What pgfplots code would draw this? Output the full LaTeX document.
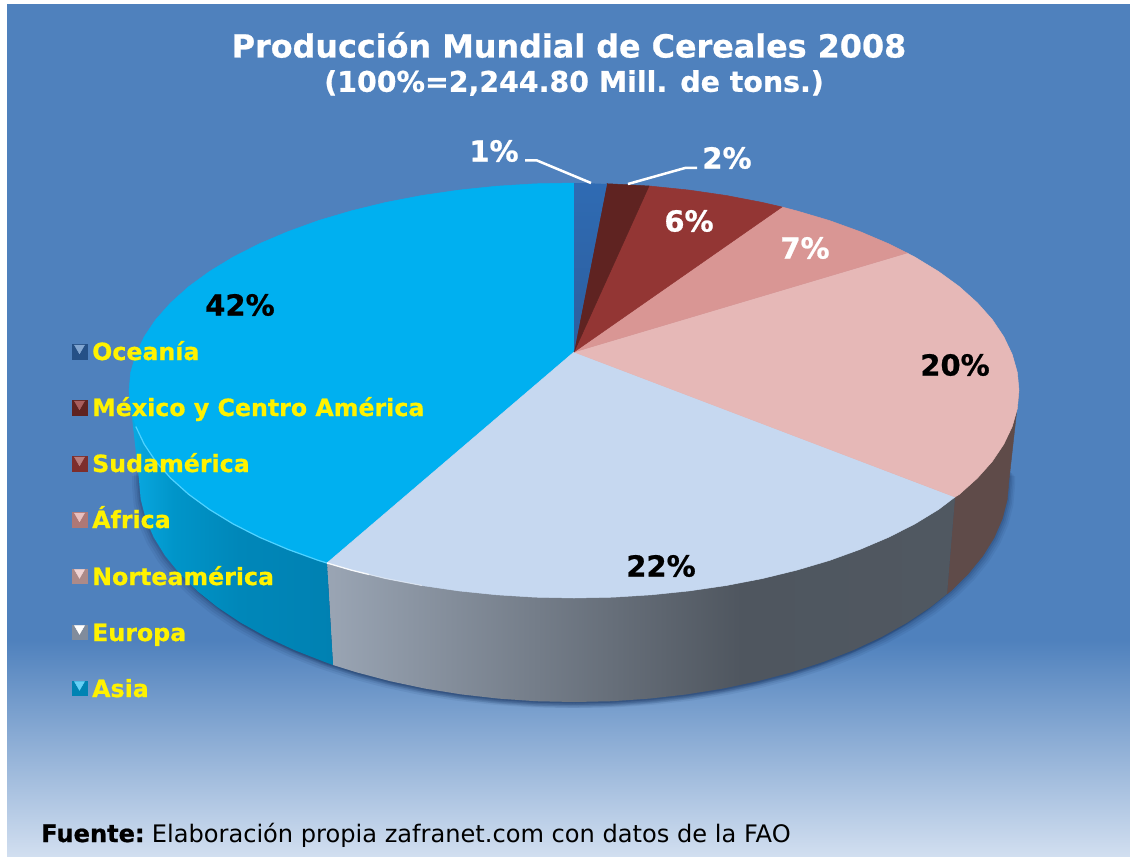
\documentclass[border=0pt]{standalone}
\usepackage{fontspec}
\setmainfont[BoldFeatures={FakeBold=0.7}]{DejaVu Sans}
\usepackage{pgfplots}
\usepackage{pgfplotstable}
\pgfplotsset{compat=1.18}
\definecolor{bg}{HTML}{4F81BD}
\definecolor{bgb}{HTML}{D2DFF0}
\definecolor{eL}{HTML}{9AA5B4}\definecolor{eD}{HTML}{4F565F}\definecolor{eR}{HTML}{505861}
\definecolor{aL}{HTML}{0AAAE3}\definecolor{aM}{HTML}{0095C9}\definecolor{aD}{HTML}{0087B9}\definecolor{aR}{HTML}{0081B2}
\definecolor{HTMLwall}{HTML}{5F4B49}
\definecolor{HTMLoc1}{HTML}{2F6BB3}
\definecolor{HTMLoc2}{HTML}{2C5E9E}
\definecolor{HTMLmx}{HTML}{5F2321}
\definecolor{HTMLsu}{HTML}{933634}
\definecolor{HTMLaf}{HTML}{D99694}
\definecolor{HTMLno}{HTML}{E6B8B7}
\definecolor{HTMLeu}{HTML}{C6D8F0}
\definecolor{HTMLas}{HTML}{00B0F0}
\definecolor{HTMLasd}{HTML}{0083B3}
\definecolor{HTMLasr}{HTML}{4FD2FF}
\definecolor{shc}{HTML}{1E3A66}
\pgfdeclarehorizontalshading{eurosh}{100bp}{color(0bp)=(eL); color(25bp)=(eL); color(58bp)=(eD); color(75bp)=(eR); color(100bp)=(eR)}
\pgfdeclarehorizontalshading{asiash}{100bp}{color(0bp)=(aL); color(25bp)=(aL); color(36bp)=(aM); color(52bp)=(aD); color(75bp)=(aR); color(100bp)=(aR)}
% top surface
\pgfplotstableread{
x y
574 352
574 183
590 183.3
607 184
574 352
}\oceania
\pgfplotstableread{
x y
574 352
607 183.7
630 184.9
649 186
574 352
}\mexico
\pgfplotstableread{
x y
574 352
649 186
651.3 186.2
689.2 190.1
726.2 195.5
762.1 202.4
782 207
574 352
}\sudamerica
\pgfplotstableread{
x y
574 352
782 207
796.5 210.8
829.3 220.5
860 231.6
888.7 243.8
907 253
574 352
}\africa
\pgfplotstableread{
x y
574 352
907 253
914.9 257.1
938.5 271.5
959.4 286.7
977.3 302.8
992.2 319.5
1003.8 336.8
1012.2 354.5
1017.3 372.4
1019 390.5
1017.3 408.6
1012.2 426.5
1003.8 444.2
992.2 461.5
977.3 478.2
959.4 494.3
955 497
574 352
}\norte
\pgfplotstableread{
x y
574 352
955 497
938.5 509.5
914.9 523.9
888.7 537.2
860 549.4
829.3 560.5
796.5 570.2
762.1 578.6
726.2 585.5
689.2 590.9
651.3 594.8
612.8 597.2
574 598
535.2 597.2
496.7 594.8
458.8 590.9
421.8 585.5
385.9 578.6
351.5 570.2
327 563
574 352
}\europa
\pgfplotstableread{
x y
574 352
327 563
318.7 560.5
288 549.4
259.3 537.2
233.1 523.9
209.5 509.5
188.6 494.3
170.7 478.2
155.8 461.5
144.2 444.2
135.8 426.5
130.7 408.6
129 390.5
130.7 372.4
135.8 354.5
144.2 336.8
155.8 319.5
170.7 302.8
188.6 286.7
209.5 271.5
233.1 257.1
259.3 243.8
288 231.6
318.7 220.5
351.5 210.8
385.9 202.4
421.8 195.5
458.8 190.1
496.7 186.2
535.2 183.8
574 183
574 352
}\asia
% side walls
\pgfplotstableread{
x y
1019 390.5
1009 480
1007.3 499.3
1002.4 518.5
994.2 537.5
982.8 555.9
968.2 573.8
950.7 591
947 594
955 497
}\nortewall
\pgfplotstableread{
x y
955 497
947 594
930.4 607.3
907.2 622.7
881.6 637
853.6 650.1
823.5 661.9
791.5 672.3
757.8 681.2
722.8 688.6
686.6 694.4
649.5 698.6
611.9 701.2
574 702
536.1 701.2
498.5 698.6
461.4 694.4
425.2 688.6
390.2 681.2
356.5 672.3
333 665
327 563
574 598
}\europawall
\pgfplotstableread{
x y
327 563
333 665
324.5 661.9
294.4 650.1
266.4 637
240.8 622.7
217.6 607.3
197.3 591
179.8 573.8
165.2 555.9
153.8 537.5
145.6 518.5
140.7 499.3
139 480
129 390.5
}\asiawall
% outline for the drop shadow
\pgfplotstableread{
x y
1009 470
1009 480
1007.3 499.3
1002.4 518.5
994.2 537.5
982.8 555.9
968.2 573.8
950.7 591
930.4 607.3
907.2 622.7
881.6 637
853.6 650.1
823.5 661.9
791.5 672.3
757.8 681.2
722.8 688.6
686.6 694.4
649.5 698.6
611.9 701.2
574 702
536.1 701.2
498.5 698.6
461.4 694.4
425.2 688.6
390.2 681.2
356.5 672.3
324.5 661.9
294.4 650.1
266.4 637
240.8 622.7
217.6 607.3
197.3 591
179.8 573.8
165.2 555.9
153.8 537.5
145.6 518.5
140.7 499.3
139 480
139 470
}\shadow
% rim highlights
\pgfplotstableread{
x y
327 563
318.7 560.5
288 549.4
259.3 537.2
233.1 523.9
209.5 509.5
188.6 494.3
170.7 478.2
155.8 461.5
144.2 444.2
135.8 426.5
}\asiarim
\pgfplotstableread{
x y
327 563
351.5 570.2
369 574.5
}\eurorima
\pgfplotstableread{
x y
369 574.5
385.9 578.6
421.8 585.5
}\eurorimb
\newcommand{\fs}[1]{\fontsize{#1bp}{#1bp}\selectfont}
\begin{document}
\begin{tikzpicture}
\useasboundingbox (0,0) rectangle (1130bp,857bp);
\begin{axis}[at={(0,0)},anchor=south west,width=1130bp,height=857bp,scale only axis,
  xmin=0,xmax=1130,ymin=0,ymax=857,y dir=reverse,hide axis,clip=false]
% background
\addplot[draw=none,fill=bg] coordinates {(7,4)(1130,4)(1130,641)(7,641)};
\addplot[draw=none,top color=bg,bottom color=bgb,shading angle=0] coordinates {(7,640)(1130,640)(1130,857)(7,857)};
% shadow
\addplot[draw=none,fill=shc,opacity=.09,xshift=-7bp,yshift=-6bp] table {\shadow};
\addplot[draw=none,fill=shc,opacity=.09,xshift=6bp,yshift=-6bp] table {\shadow};
\addplot[draw=none,fill=shc,opacity=.12,xshift=-5bp,yshift=-4.5bp] table {\shadow};
\addplot[draw=none,fill=shc,opacity=.12,xshift=4.5bp,yshift=-4.5bp] table {\shadow};
\addplot[draw=none,fill=shc,opacity=.15,xshift=-3bp,yshift=-3bp] table {\shadow};
\addplot[draw=none,fill=shc,opacity=.15,xshift=3bp,yshift=-3bp] table {\shadow};
\addplot[draw=none,fill=shc,opacity=.2,xshift=-1.5bp,yshift=-1.5bp] table {\shadow};
\addplot[draw=none,fill=shc,opacity=.2,xshift=1.5bp,yshift=-1.5bp] table {\shadow};
% walls
\addplot[draw=HTMLwall,line width=.4bp,fill=HTMLwall] table {\nortewall};
\addplot[draw=none,shade,shading=eurosh] table {\europawall};
\addplot[draw=none,shade,shading=asiash] table {\asiawall};
% top
\addplot[draw=HTMLas,line width=.5bp,fill=HTMLas] table {\asia};
\addplot[draw=HTMLeu,line width=.5bp,fill=HTMLeu] table {\europa};
\addplot[draw=HTMLno,line width=.5bp,fill=HTMLno] table {\norte};
\addplot[draw=HTMLaf,line width=.5bp,fill=HTMLaf] table {\africa};
\addplot[draw=HTMLsu,line width=.5bp,fill=HTMLsu] table {\sudamerica};
\addplot[draw=HTMLmx,line width=.5bp,fill=HTMLmx] table {\mexico};
\addplot[draw=none,top color=HTMLoc1,bottom color=HTMLoc2] table {\oceania};
\addplot[line width=1.2bp,color=HTMLasr] table {\asiarim};
\addplot[line width=1.3bp,color=white,opacity=.9] table {\eurorima};
\addplot[line width=1.1bp,color=white,opacity=.4] table {\eurorimb};
% leader lines
\addplot[line width=2.5bp,white] coordinates {(525,160.5)(537,160.5)(591,183)};
\addplot[line width=2.5bp,white] coordinates {(697,168)(685,168)(628,184)};
% legend markers
\addplot[only marks,color=HTMLoc2!85!black,mark=square*,mark size=7.2bp] coordinates {(79.5,351.5)};
\addplot[only marks,color=HTMLoc1!60!white,mark=triangle*,mark size=5.8bp,mark options={rotate=180}] coordinates {(79.5,348)};
\addplot[only marks,color=HTMLmx,mark=square*,mark size=7.2bp] coordinates {(79.5,407.5)};
\addplot[only marks,color=HTMLsu!80!white,mark=triangle*,mark size=5.8bp,mark options={rotate=180}] coordinates {(79.5,404)};
\addplot[only marks,color=HTMLsu!85!black,mark=square*,mark size=7.2bp] coordinates {(79.5,463.5)};
\addplot[only marks,color=HTMLsu!65!white,mark=triangle*,mark size=5.8bp,mark options={rotate=180}] coordinates {(79.5,460)};
\addplot[only marks,color=HTMLaf!80!black,mark=square*,mark size=7.2bp] coordinates {(79.5,519.5)};
\addplot[only marks,color=HTMLaf!60!white,mark=triangle*,mark size=5.8bp,mark options={rotate=180}] coordinates {(79.5,516)};
\addplot[only marks,color=HTMLno!75!black,mark=square*,mark size=7.2bp] coordinates {(79.5,576)};
\addplot[only marks,color=HTMLno!60!white,mark=triangle*,mark size=5.8bp,mark options={rotate=180}] coordinates {(79.5,572.5)};
\addplot[only marks,color=HTMLeu!65!black,mark=square*,mark size=7.2bp] coordinates {(79.5,632)};
\addplot[only marks,color=white,mark=triangle*,mark size=5.8bp,mark options={rotate=180}] coordinates {(79.5,628.5)};
\addplot[only marks,color=HTMLasd,mark=square*,mark size=7.2bp] coordinates {(79.5,688)};
\addplot[only marks,color=HTMLas!60!white,mark=triangle*,mark size=5.8bp,mark options={rotate=180}] coordinates {(79.5,684.5)};
% texts
\node[white,font=\fs{31.8}\bfseries] at (axis cs:569,45) {Producción Mundial de Cereales 2008};
\node[white,font=\fs{28.4}\bfseries] at (axis cs:574,83) {(100\%=2,244.80 Mill. de tons.)};
\node[white,font=\fs{29}\bfseries] at (axis cs:494,151) {1\%};
\node[white,font=\fs{29}\bfseries] at (axis cs:727,158) {2\%};
\node[white,font=\fs{29}\bfseries] at (axis cs:689,221) {6\%};
\node[white,font=\fs{29}\bfseries] at (axis cs:805,248) {7\%};
\node[black,font=\fs{29}\bfseries] at (axis cs:955,365) {20\%};
\node[black,font=\fs{29}\bfseries] at (axis cs:661,566) {22\%};
\node[black,font=\fs{29}\bfseries] at (axis cs:240,305) {42\%};
\node[anchor=base west,inner sep=0pt,text=yellow,font=\fs{23.7}\bfseries] at (axis cs:92,360) {Oceanía};
\node[anchor=base west,inner sep=0pt,text=yellow,font=\fs{23.7}\bfseries] at (axis cs:92,416) {México y Centro América};
\node[anchor=base west,inner sep=0pt,text=yellow,font=\fs{23.7}\bfseries] at (axis cs:92,472) {Sudamérica};
\node[anchor=base west,inner sep=0pt,text=yellow,font=\fs{23.7}\bfseries] at (axis cs:92,528) {África};
\node[anchor=base west,inner sep=0pt,text=yellow,font=\fs{23.7}\bfseries] at (axis cs:92,585) {Norteamérica};
\node[anchor=base west,inner sep=0pt,text=yellow,font=\fs{23.7}\bfseries] at (axis cs:92,641) {Europa};
\node[anchor=base west,inner sep=0pt,text=yellow,font=\fs{23.7}\bfseries] at (axis cs:92,697) {Asia};
\node[anchor=base west,inner sep=0pt,text=black,font=\fs{24.1}] at (axis cs:41,842) {\textbf{Fuente:}\hspace{-3bp} Elaboración propia zafranet.com con datos de la FAO};
\end{axis}
\end{tikzpicture}
\end{document}
